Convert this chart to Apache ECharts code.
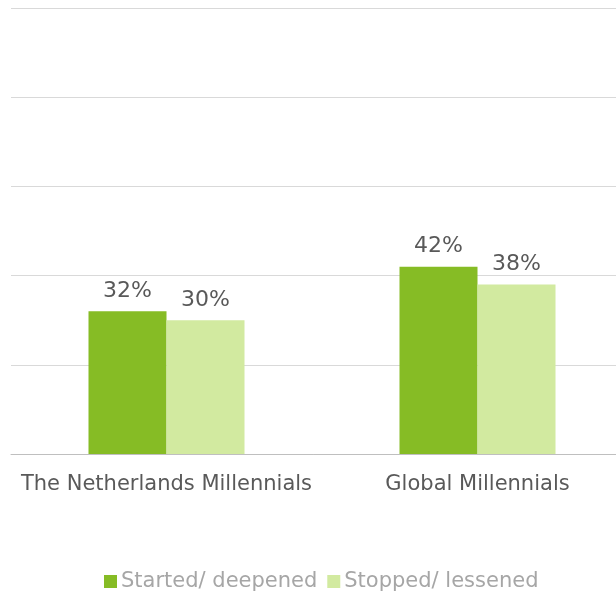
<!DOCTYPE html>
<html>
<head>
<meta charset="utf-8">
<script src="https://cdn.jsdelivr.net/npm/echarts@6/dist/echarts.min.js"></script>
<style>
  html, body { margin: 0; padding: 0; background: #fff; }
  #chart { width: 616px; height: 592px; }
</style>
</head>
<body>
<div id="chart"></div>
<script>
const categories = ['The Netherlands Millennials', 'Global Millennials']
const started = [32, 42]
const stopped = [30, 38]
const seriesNames = ['Started/ deepened', 'Stopped/ lessened']

const chart = echarts.init(document.getElementById('chart'))

const labelStyle = {
  show: true,
  position: 'top',
  distance: 9,
  fontSize: 22,
  color: '#595959',
  fontFamily: 'DejaVu Sans',
  formatter: p => p.value + '%'
}

const option = {
  animation: false,
  textStyle: { fontFamily: 'DejaVu Sans' },
  grid: { left: 11, width: 622, top: 8, bottom: 138, containLabel: false, outerBoundsMode: 'none' },
  legend: {
    data: seriesNames,
    top: 566,
    left: 99,
    itemWidth: 13,
    itemHeight: 13,
    itemGap: 10,
    icon: 'rect',
    textStyle: { fontSize: 21, color: '#a6a6a6', padding: [0, 0, 0, -1] }
  },
  xAxis: {
    type: 'category',
    data: categories,
    axisLine: { lineStyle: { color: '#bfbfbf', width: 1 } },
    axisTick: { show: false },
    axisLabel: { fontSize: 21, color: '#595959', margin: 20, interval: 0 }
  },
  yAxis: {
    type: 'value',
    min: 0,
    max: 100,
    interval: 20,
    axisLabel: { show: false },
    axisLine: { show: false },
    axisTick: { show: false },
    splitLine: { lineStyle: { color: '#d9d9d9' } }
  },
  series: [
    {
      name: seriesNames[0],
      type: 'bar',
      data: started,
      barWidth: 78,
      barGap: '0%',
      itemStyle: { color: '#86bc25' },
      label: labelStyle
    },
    {
      name: seriesNames[1],
      type: 'bar',
      data: stopped,
      barWidth: 78,
      itemStyle: { color: '#d2eaa0' },
      label: labelStyle
    }
  ]
}

chart.setOption(option)
</script>
</body>
</html>
